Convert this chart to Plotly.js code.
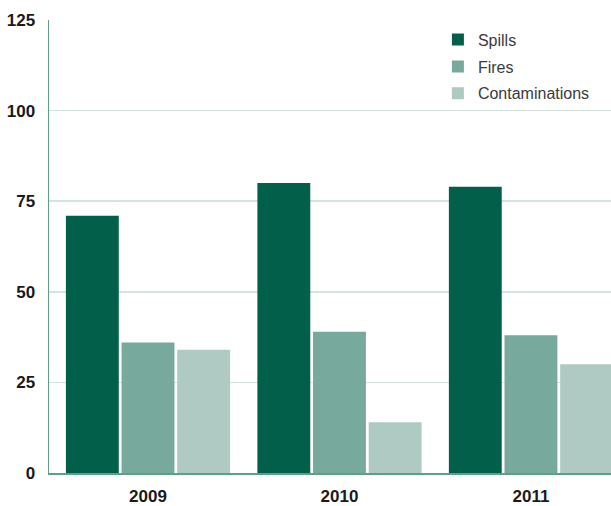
<!DOCTYPE html>
<html>
<head>
<meta charset="utf-8">
<script src="https://cdn.plot.ly/plotly-3.0.1.min.js"></script>
<style>html,body{margin:0;padding:0;background:#fff;}#chart{width:611px;height:506px;}</style>
</head>
<body>
<div id="chart"></div>
<script>
const years = ['2009', '2010', '2011'];
const spills = [71, 80, 79];
const fires = [36, 39, 38];
const contaminations = [34, 14, 30];
const yTicks = [0, 25, 50, 75, 100, 125];

const traces = [
  {type: 'bar', name: 'Spills', legendgroup: 'a', x: years, y: spills, marker: {color: '#02604a'}},
  {type: 'bar', name: 'Fires', legendgroup: 'b', x: years, y: fires, marker: {color: '#77a99c'}},
  {type: 'bar', name: 'Contaminations', legendgroup: 'c', x: years, y: contaminations, marker: {color: '#aecac2'}}
];

const layout = {
  width: 611, height: 506,
  margin: {l: 49, r: 0, t: 20, b: 33},
  paper_bgcolor: '#ffffff', plot_bgcolor: '#ffffff',
  barmode: 'group', bargap: 0.128, bargroupgap: 0.05,
  showlegend: true,
  legend: {
    x: 0.692, y: 0.994, xanchor: 'left', yanchor: 'top',
    font: {family: 'Liberation Sans, Arial, sans-serif', size: 16, color: '#3a3a3a'},
    tracegroupgap: 3, itemsizing: 'constant', bgcolor: 'rgba(0,0,0,0)'
  },
  xaxis: {
    type: 'category', range: [-0.517, 2.418], fixedrange: true,
    showline: true, linecolor: '#5f9e8a', linewidth: 1.5,
    showgrid: false, ticks: '', ticklabelstandoff: 7,
    tickfont: {family: 'Liberation Sans, Arial, sans-serif', size: 17, color: '#1a1a1a', weight: 'bold'}
  },
  yaxis: {
    range: [0, 125], tickvals: yTicks, ticktext: yTicks.map(String),
    showline: true, linecolor: '#5f9e8a', linewidth: 1.5,
    showgrid: true, gridcolor: '#d3e4de', gridwidth: 1.5, zeroline: false,
    ticks: '', ticklabelstandoff: 9,
    tickfont: {family: 'Liberation Sans, Arial, sans-serif', size: 17, color: '#1a1a1a', weight: 'bold'}
  }
};

Plotly.newPlot('chart', traces, layout, {displayModeBar: false, staticPlot: true});
</script>
</body>
</html>
